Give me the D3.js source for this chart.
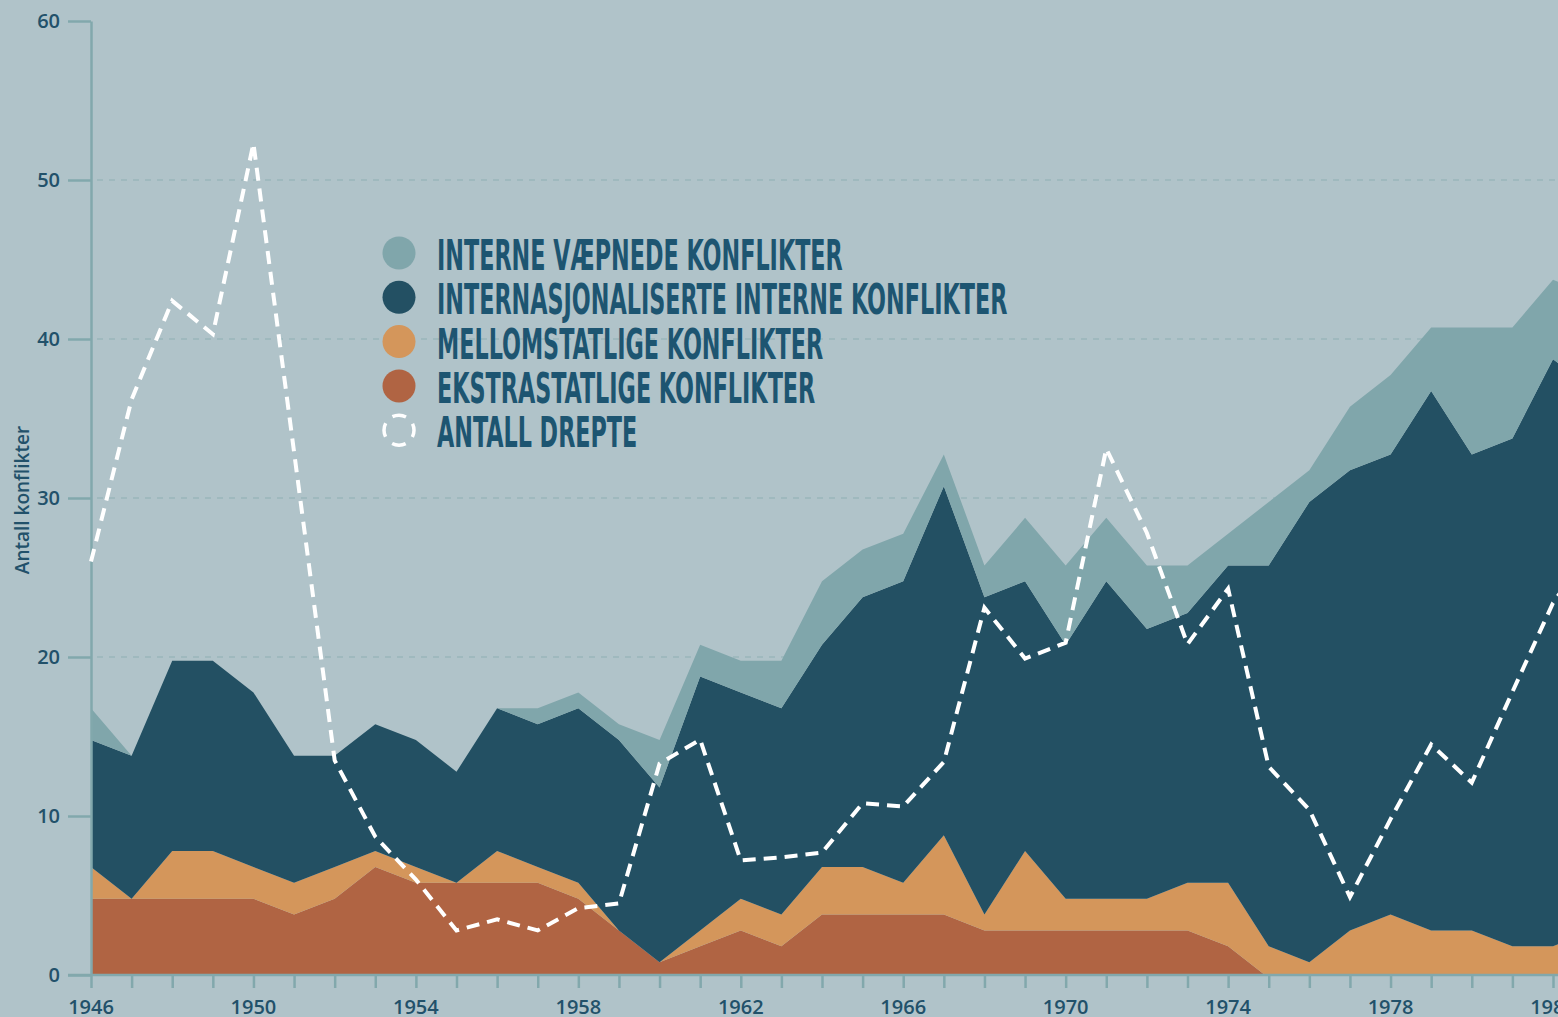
<!DOCTYPE html>
<html>
<head>
<meta charset="utf-8">
<script src="https://cdn.jsdelivr.net/npm/d3@7"></script>
<style>
  html, body { margin: 0; padding: 0; background: #b0c3c9; overflow: hidden; }
</style>
</head>
<body>
<svg id="chart" width="1558" height="1017"></svg>
<script>
// data (antall konflikter per år)
const years = [1946, 1947, 1948, 1949, 1950, 1951, 1952, 1953, 1954, 1955,
  1956, 1957, 1958, 1959, 1960, 1961, 1962, 1963, 1964, 1965,
  1966, 1967, 1968, 1969, 1970, 1971, 1972, 1973, 1974, 1975,
  1976, 1977, 1978, 1979, 1980, 1981, 1982, 1983];

const ekstrastatlige = [5, 5, 5, 5, 5, 4, 5, 7, 6, 6, 6, 6, 5, 3, 1, 2, 3, 2, 4, 4,
  4, 4, 3, 3, 3, 3, 3, 3, 2, 0, 0, 0, 0, 0, 0, 0, 0, 0];
const mellomstatlige = [2, 0, 3, 3, 2, 2, 2, 1, 1, 0, 2, 1, 1, 0, 0, 1, 2, 2, 3, 3,
  2, 5, 1, 5, 2, 2, 2, 3, 4, 2, 1, 3, 4, 3, 3, 2, 2, 3];
const internasjonaliserte = [8, 9, 12, 12, 11, 8, 7, 8, 8, 7, 9, 9, 11, 12, 11, 16, 13, 13, 14, 17,
  19, 22, 20, 17, 16, 20, 17, 17, 20, 24, 29, 29, 29, 34, 30, 32, 37, 34];
const interne = [2, 0, 0, 0, 0, 0, 0, 0, 0, 0, 0, 1, 1, 1, 3, 2, 2, 3, 4, 3,
  3, 2, 2, 4, 5, 4, 4, 3, 2, 4, 2, 4, 5, 4, 8, 7, 5, 6];
// antall drepte, in units of the left axis (no own axis shown)
const drepte = [26.0, 36.2, 42.4, 40.3, 52.3, 32.9, 13.5, 8.7, 6.0, 2.8,
  3.5, 2.8, 4.2, 4.5, 13.3, 14.8, 7.2, 7.4, 7.7, 10.8,
  10.6, 13.4, 23.1, 19.9, 20.9, 33.1, 27.8, 20.8, 24.3, 13.1,
  10.4, 4.9, 9.8, 14.5, 12.1, 17.8, 23.4, 27.0];

const yTicks = [0, 10, 20, 30, 40, 50, 60];
const yearLabels = [1946, 1950, 1954, 1958, 1962, 1966, 1970, 1974, 1978, 1982];

const legendLabels = [
  'INTERNE VÆPNEDE KONFLIKTER',
  'INTERNASJONALISERTE INTERNE KONFLIKTER',
  'MELLOMSTATLIGE KONFLIKTER',
  'EKSTRASTATLIGE KONFLIKTER',
  'ANTALL DREPTE'
];

const style = {
  bg: '#b0c3c9',
  interne: '#80a6ab',
  internasjonaliserte: '#235063',
  mellomstatlige: '#d4965b',
  ekstrastatlige: '#b06443',
  axis: '#82a8ac',
  grid: '#8db0b4',
  tickText: '#22516a',
  legendText: '#1d5571',
  tickFont: "'Open Sans', 'DejaVu Sans', sans-serif",
  legendFont: "'DejaVu Sans Condensed', 'DejaVu Sans', sans-serif",
};

const W = 1558, H = 1017;
const svg = d3.select('#chart');

svg.append('rect')
  .attr('width', W).attr('height', H)
  .attr('fill', style.bg);

const xScale = d3.scaleLinear().domain([1946, 1982]).range([91, 1553]);
const yScale = d3.scaleLinear().domain([0, 60]).range([975, 21]);
// the areas in the original sit a few pixels lower than the axis ticks
const yData = d3.scaleLinear().domain([0, 60]).range([978, 26]);

svg.append('clipPath').attr('id', 'plot-clip')
  .append('rect')
    .attr('x', 0).attr('y', 0)
    .attr('width', W).attr('height', yScale(0) + 1);

// grid lines
svg.append('g').attr('class', 'grid')
  .selectAll('line')
  .data(yTicks.filter(t => t > 0 && t < 60))
  .enter().append('line')
    .attr('x1', xScale(1946) + 6).attr('x2', W)
    .attr('y1', d => yScale(d)).attr('y2', d => yScale(d))
    .attr('stroke', style.grid)
    .attr('stroke-width', 1.2)
    .attr('stroke-dasharray', '6, 6');

// stacked areas
const rows = years.map((yr, i) => ({
  year: yr,
  ekstrastatlige: ekstrastatlige[i],
  mellomstatlige: mellomstatlige[i],
  internasjonaliserte: internasjonaliserte[i],
  interne: interne[i],
}));
const keys = ['ekstrastatlige', 'mellomstatlige', 'internasjonaliserte', 'interne'];
const series = d3.stack().keys(keys)(rows);

const areaGen = d3.area()
  .x(d => xScale(d.data.year))
  .y0(d => yData(d[0]))
  .y1(d => yData(d[1]));

svg.append('g').attr('class', 'areas')
  .attr('clip-path', 'url(#plot-clip)')
  .selectAll('path')
  .data(series)
  .enter().append('path')
    .attr('d', areaGen)
    .attr('fill', d => style[d.key]);

// y axis
const yAxis = d3.axisLeft(yScale)
  .tickValues(yTicks)
  .tickSize(23)
  .tickSizeOuter(0)
  .tickPadding(8);

const yAxisSel = svg.append('g')
  .attr('class', 'y-axis')
  .attr('transform', `translate(${xScale(1946)}, 0)`)
  .call(yAxis);

yAxisSel.select('.domain')
  .attr('stroke', style.axis)
  .attr('stroke-width', 2.5);
yAxisSel.selectAll('.tick line')
  .attr('stroke', style.axis)
  .attr('stroke-width', 2.5);
yAxisSel.selectAll('.tick text')
  .attr('fill', style.tickText)
  .style('font-family', style.tickFont)
  .style('font-weight', 600)
  .style('font-size', '20px');

// x axis: yearly ticks + labels every 4 years
const xAxisSel = svg.append('g')
  .attr('class', 'x-axis')
  .attr('transform', `translate(0, ${yScale(0)})`);

xAxisSel.append('line')
  .attr('x1', xScale(1946) - 23).attr('x2', W)
  .attr('stroke', style.axis)
  .attr('stroke-width', 2.5);

xAxisSel.call(d3.axisBottom(xScale)
  .tickValues(years)
  .tickSize(13)
  .tickFormat(''));
xAxisSel.select('.domain').remove();
xAxisSel.selectAll('.tick line')
  .attr('stroke', style.axis)
  .attr('stroke-width', 2.5);

xAxisSel.selectAll('text.year')
  .data(yearLabels)
  .enter().append('text')
    .attr('class', 'year')
    .attr('x', d => xScale(d))
    .attr('y', 39)
    .attr('text-anchor', 'middle')
    .attr('fill', style.tickText)
    .style('font-family', style.tickFont)
    .style('font-weight', 600)
    .style('font-size', '20px')
    .text(d => d);

// y axis title
svg.append('text')
  .attr('transform', 'translate(29, 500) rotate(-90)')
  .attr('text-anchor', 'middle')
  .attr('fill', style.tickText)
  .style('font-family', style.tickFont)
  .style('font-weight', 600)
  .style('font-size', '19px')
  .text('Antall konflikter');

// antall drepte line
const lineGen = d3.line()
  .x((d, i) => xScale(years[i]))
  .y(d => yScale(d));

svg.append('path')
  .attr('class', 'drepte')
  .attr('d', lineGen(drepte))
  .attr('fill', 'none')
  .attr('stroke', 'white')
  .attr('stroke-width', 4)
  .attr('stroke-dasharray', '13, 8')
  .attr('stroke-linejoin', 'miter')
  .attr('stroke-miterlimit', 10);

// legend
const legendColors = [style.interne, style.internasjonaliserte, style.mellomstatlige, style.ekstrastatlige, null];
const legend = svg.append('g').attr('class', 'legend');
const rowY = i => 253 + i * 44.3;

legendColors.forEach((c, i) => {
  if (c) {
    legend.append('circle')
      .attr('cx', 399).attr('cy', rowY(i)).attr('r', 16.5)
      .attr('fill', c);
  } else {
    legend.append('circle')
      .attr('cx', 399).attr('cy', rowY(i)).attr('r', 15)
      .attr('fill', 'none')
      .attr('stroke', 'white')
      .attr('stroke-width', 3.5)
      .attr('stroke-dasharray', '14, 9.5')
      .attr('stroke-dashoffset', 7);
  }
});

const labels = legend.selectAll('text')
  .data(legendLabels)
  .enter().append('text')
    .attr('x', 0).attr('y', 0)
    .attr('fill', style.legendText)
    .style('font-family', style.legendFont)
    .style('font-weight', 'bold')
    .style('font-size', '42px')
    .text(d => d);

// squeeze the labels to the narrow look of the original font
const sx = 406 / labels.node().getComputedTextLength();
labels.attr('transform', (d, i) => `translate(437, ${rowY(i) + 17}) scale(${sx}, 1)`);
</script>
</body>
</html>
